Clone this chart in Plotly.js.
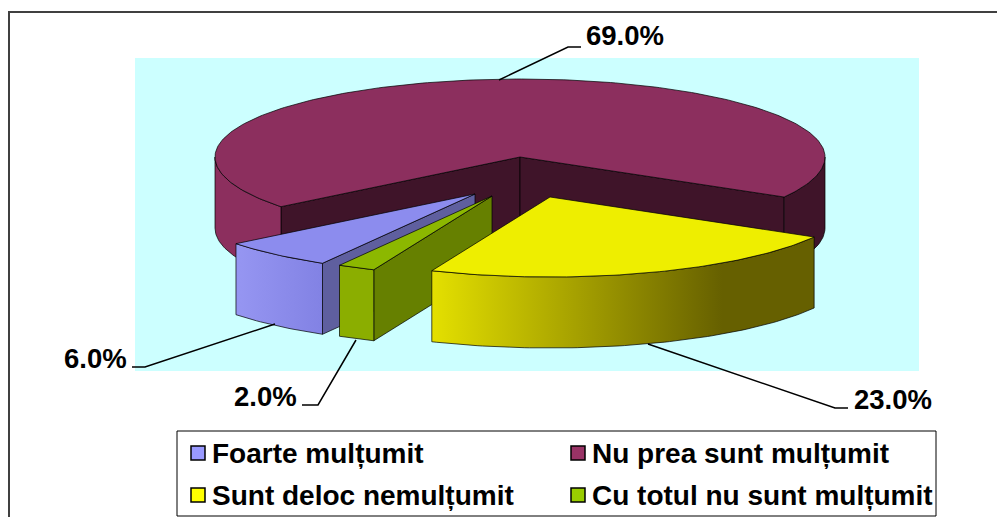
<!DOCTYPE html>
<html><head><meta charset="utf-8">
<script src="https://cdn.plot.ly/plotly-3.0.1.min.js"></script>
<style>html,body{margin:0;padding:0;background:#fff;overflow:hidden}</style>
</head><body><div id="chart" style="width:997px;height:517px"></div>
<script>
// --- data ---
const categories = ['Foarte mulțumit','Nu prea sunt mulțumit','Sunt deloc nemulțumit','Cu totul nu sunt mulțumit'];
const values = [6, 69, 23, 2];

// --- styles ---
const legendColors = ['#9999FF','#993366','#FFFF00','#99CC00'];
const topColors   = ['#8C8CEE','#8C2F5E','#EEEE00','#8CB800'];
const sideLeft    = ['#9696F2','#8C2F5E','#E4E000','#8BAE00'];
const sideRight   = ['#8282E4','#3F1429','#666000','#8BAE00'];
const sideReach   = [1,1,0.76,1];
const innerColors = ['#5F5F9F','#3F1429','#666000','#668000'];
const font = 'Liberation Sans, Arial, sans-serif';
const fs = 27.5;

// --- projection of the tilted pie ---
const firstAngle = 210, rx = 305, ryBack = 78, ryFront = 80, depth = 71;
const apexes = [[475,194],[520,157],[550,197],[492,196]];
const drawOrder = [1,0,3,2];

const rad = d => d*Math.PI/180;
function pt(apex,deg,dz){
  const s=Math.sin(rad(deg)), c=-Math.cos(rad(deg));
  return [apex[0]+rx*s, apex[1]+(c>0?ryFront:ryBack)*c+(dz||0)];
}
function arc(apex,a,b,dz){
  const out=[]; const n=Math.max(2,Math.ceil(Math.abs(b-a)));
  for(let i=0;i<=n;i++) out.push(pt(apex,a+(b-a)*i/n,dz));
  return out;
}
function poly(points,fill,gradient){
  const t={type:'scatter',mode:'lines',x:points.map(p=>p[0]),y:points.map(p=>p[1]),
    fill:'toself',fillcolor:fill,line:{color:'rgba(0,0,0,0.7)',width:1},
    hoverinfo:'skip',showlegend:false};
  if(gradient) t.fillgradient={type:'horizontal',colorscale:gradient};
  return t;
}

const total = values.reduce((a,b)=>a+b,0);
let acc = firstAngle; const spans = values.map(v=>{const a=acc; acc+=v/total*360; return [a,acc];});

const traces = [];
drawOrder.forEach(i=>{
  const [a,b]=spans[i], ap=apexes[i];
  const below=[ap[0],ap[1]+depth];
  // radial faces facing the viewer
  if(Math.sin(rad(a))<0){const c=pt(ap,a),d=pt(ap,a,depth);traces.push(poly([ap,c,d,below,ap],innerColors[i]));}
  if(Math.sin(rad(b))>0){const c=pt(ap,b),d=pt(ap,b,depth);traces.push(poly([ap,c,d,below,ap],innerColors[i]));}
  // outer wall: only the front half (90..270 degrees) is visible
  const ranges=[];
  for(const k of [0,360]){
    const lo=Math.max(a,90+k), hi=Math.min(b,270+k);
    if(hi>lo) ranges.push([lo,hi]);
  }
  ranges.forEach(r=>{
    const wall=arc(ap,r[0],r[1]).concat(arc(ap,r[1],r[0],depth));
    wall.push(wall[0]);
    if(ranges.length>1){
      const left=((r[0]%360)+360)%360>180;
      traces.push(poly(wall,left?sideLeft[i]:sideRight[i]));
    } else {
      const stops=[[0,sideLeft[i]],[sideReach[i],sideRight[i]]];
      if(sideReach[i]<1) stops.push([1,sideRight[i]]);
      traces.push(poly(wall,sideLeft[i],stops));
    }
  });
  // top face
  traces.push(poly([ap].concat(arc(ap,a,b)).concat([ap]),topColors[i]));
});

// leader lines and value labels
const leaders=[[[275,324],[145,367],[132,367]],[[499,80],[568,47],[581,47]],[[648,344],[835,408],[848,408]],[[356,340],[318,405],[302,405]]];
const labelPos=[[128,358],[585,35],[853,399],[297.5,396]];
const labelAnchor=['right','left','left','right'];
leaders.forEach(l=>traces.push({type:'scatter',mode:'lines',x:l.map(p=>p[0]),y:l.map(p=>p[1]),
  line:{color:'#000',width:1.5},hoverinfo:'skip',showlegend:false}));

const annotations=values.map((v,i)=>({xref:'x',yref:'y',x:labelPos[i][0],y:labelPos[i][1],
  text:'<b>'+v.toFixed(1)+'%</b>',showarrow:false,xanchor:labelAnchor[i],yanchor:'middle',
  font:{family:font,size:fs,color:'#000'},borderpad:0}));

// legend panel: swatches and their names
const legendCols=[198,578], legendRows=[453,495], legendTextGap=13;
categories.forEach((name,i)=>{
  const cx=legendCols[i%2], cy=legendRows[Math.floor(i/2)];
  traces.push({type:'scatter',mode:'markers',x:[cx],y:[cy],name:name,showlegend:false,hoverinfo:'skip',
    marker:{symbol:'square',size:14,color:legendColors[i],line:{color:'#000',width:1.5}}});
  annotations.push({xref:'x',yref:'y',x:cx+legendTextGap,y:cy,text:'<b>'+name+'</b>',showarrow:false,
    xanchor:'left',yanchor:'middle',font:{family:font,size:28,color:'#000'},borderpad:0});
});

const layout={width:997,height:517,margin:{l:0,r:0,t:0,b:0,pad:0},showlegend:false,
  paper_bgcolor:'#fff',plot_bgcolor:'rgba(0,0,0,0)',
  xaxis:{range:[0,997],visible:false,fixedrange:true},
  yaxis:{range:[517,0],visible:false,fixedrange:true},
  shapes:[
    {type:'rect',layer:'below',xref:'x',yref:'y',x0:135,x1:919,y0:58,y1:371,fillcolor:'#CCFFFF',line:{width:0}},
    {type:'path',layer:'below',xref:'x',yref:'y',path:'M9,517V12H997',line:{color:'#404040',width:2}},
    {type:'rect',layer:'below',xref:'x',yref:'y',x0:177,x1:936,y0:431,y1:516,fillcolor:'#fff',line:{color:'#000',width:1}}
  ],
  annotations:annotations
};
Plotly.newPlot('chart',traces,layout,{displayModeBar:false,staticPlot:true});
</script></body></html>
